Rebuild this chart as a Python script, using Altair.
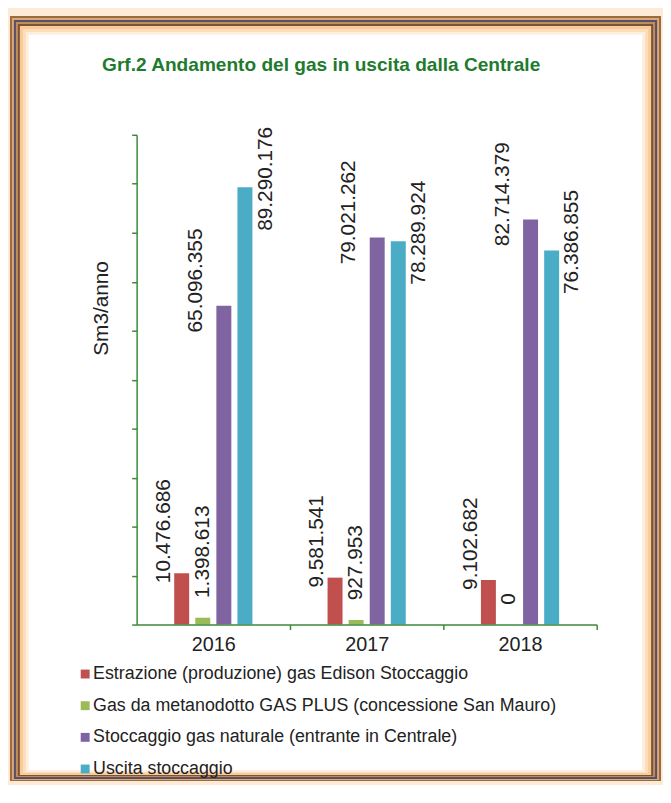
import altair as alt
import pandas as pd

# ---------------- data ----------------
years = ["2016", "2017", "2018"]
series = [
    "Estrazione (produzione) gas Edison Stoccaggio",
    "Gas da metanodotto GAS PLUS (concessione San Mauro)",
    "Stoccaggio gas naturale (entrante in Centrale)",
    "Uscita stoccaggio",
]
estrazione = [10476686, 9581541, 9102682]
gas_plus = [1398613, 927953, 0]
stoccaggio = [65096355, 79021262, 82714379]
uscita = [89290176, 78289924, 76386855]
colors = ["#C0504D", "#9BBB59", "#8064A2", "#4BACC6"]
y_ticks = [0, 10000000, 20000000, 30000000, 40000000, 50000000,
           60000000, 70000000, 80000000, 90000000, 100000000]
title_text = "Grf.2 Andamento del gas in uscita dalla Centrale"
y_title = "Sm3/anno"

values_by_series = [estrazione, gas_plus, stoccaggio, uscita]
rows = []
for s, vals in zip(series, values_by_series):
    for yr, v in zip(years, vals):
        rows.append({"year": yr, "series": s, "value": v,
                     "label": f"{v:,}".replace(",", ".")})
df = pd.DataFrame(rows)

# ---------------- layout / style ----------------
W, H = 465, 495
OX, OY = 138, 132          # page position of plot origin
GREEN = "#3A8A3A"
TXT = "#222222"
FONT = "Liberation Sans"
P_IN = 0.49
HALF_GAP = P_IN * (W / len(years)) / 2   # half of the gap between groups

x_enc = alt.X(
    "year:N", sort=years,
    scale=alt.Scale(paddingInner=P_IN, paddingOuter=P_IN / 2),
    axis=alt.Axis(title=None, labelAngle=0, labelFontSize=20, labelColor=TXT,
                  labelPadding=5, bandPosition=1, tickOffset=HALF_GAP,
                  labelOffset=-HALF_GAP, tickSize=5, tickColor=GREEN,
                  domainColor=GREEN, domainWidth=1.5, tickWidth=1.5, grid=False,
                  zindex=1),
)
xo_enc = alt.XOffset(
    "series:N",
    scale=alt.Scale(domain=series, paddingInner=0.29, paddingOuter=0),
)
y_enc = alt.Y(
    "value:Q",
    scale=alt.Scale(domain=[0, 100000000], nice=False),
    axis=alt.Axis(values=y_ticks, labels=False, grid=False, tickSize=5,
                  tickColor=GREEN, domainColor=GREEN, domainWidth=1.5, tickWidth=1.5,
                  title=y_title, titleFontSize=21, titleFontWeight="normal",
                  titleColor=TXT, titleAngle=270, titleX=-35, titleY=175,
                  titleAlign="center", titleBaseline="middle", zindex=1),
)

dummy = pd.DataFrame({"k": [0]})
frame_specs = [
    (10, 12, 668, 785, "#9a6b3f"),
    (12, 14, 666, 784, "#d9a874"),
    (14, 16, 664, 783, "#56506c"),
    (16, 18, 662, 781, "#c48c57"),
    (18, 20, 660, 780, "#74553e"),
    (20, 22, 658, 779, "#fbca95"),
    (23, 25, 655, 777, "#fcdcb9"),
    (26, 28, 652, 776, "#feeedf"),
    (29, 31, 649, 774, "#ffffff"),
]
frame_layers = [
    alt.Chart(dummy).mark_rect(color=c).encode(
        x=alt.value(l - OX), x2=alt.value(r - OX),
        y=alt.value(t - OY), y2=alt.value(b - OY))
    for (l, t, r, b, c) in frame_specs
]

title_layer = alt.Chart(pd.DataFrame({"t": [title_text]})).mark_text(
    fontSize=19.3, fontWeight="bold", color="#1E7B2E", align="center",
    baseline="middle", font=FONT,
).encode(x=alt.value(324.5 - OX), y=alt.value(62 - OY), text="t:N")

bars = alt.Chart(df).mark_bar().encode(
    x=x_enc, xOffset=xo_enc, y=y_enc,
    color=alt.Color(
        "series:N", title=None,
        scale=alt.Scale(domain=series, range=colors),
        legend=alt.Legend(orient="none", legendX=-61, legendY=536,
                          direction="vertical", symbolType="square",
                          symbolSize=81, symbolStrokeWidth=0,
                          labelFontSize=18, labelColor=TXT, labelLimit=700,
                          rowPadding=14, labelOffset=alt.ExprRef(expr="-1"),
                          padding=0),
    ),
)

label_offsets = [(-10, -18), (20, 0), (-27, -28), (-44, 21)]  # (dx, dy) per series
texts = []
for s, (ddx, ddy) in zip(series, label_offsets):
    texts.append(
        alt.Chart(df).transform_filter(alt.datum.series == s).mark_text(
            angle=270, align="left", baseline="middle", dx=ddx, dy=ddy,
            fontSize=21, color=TXT, font=FONT,
        ).encode(x=x_enc, xOffset=xo_enc, y=y_enc, text="label:N")
    )

chart = alt.layer(*frame_layers, title_layer, bars, *texts).properties(
    width=W, height=H,
    autosize=alt.AutoSizeParams(type="none"),
    padding={"left": 130, "top": 124, "right": 67, "bottom": 158},
    background="#fdebd7",
).configure_view(stroke=None).configure(font=FONT)

chart.save("out.html", embed_options={"renderer": "svg", "actions": False})
